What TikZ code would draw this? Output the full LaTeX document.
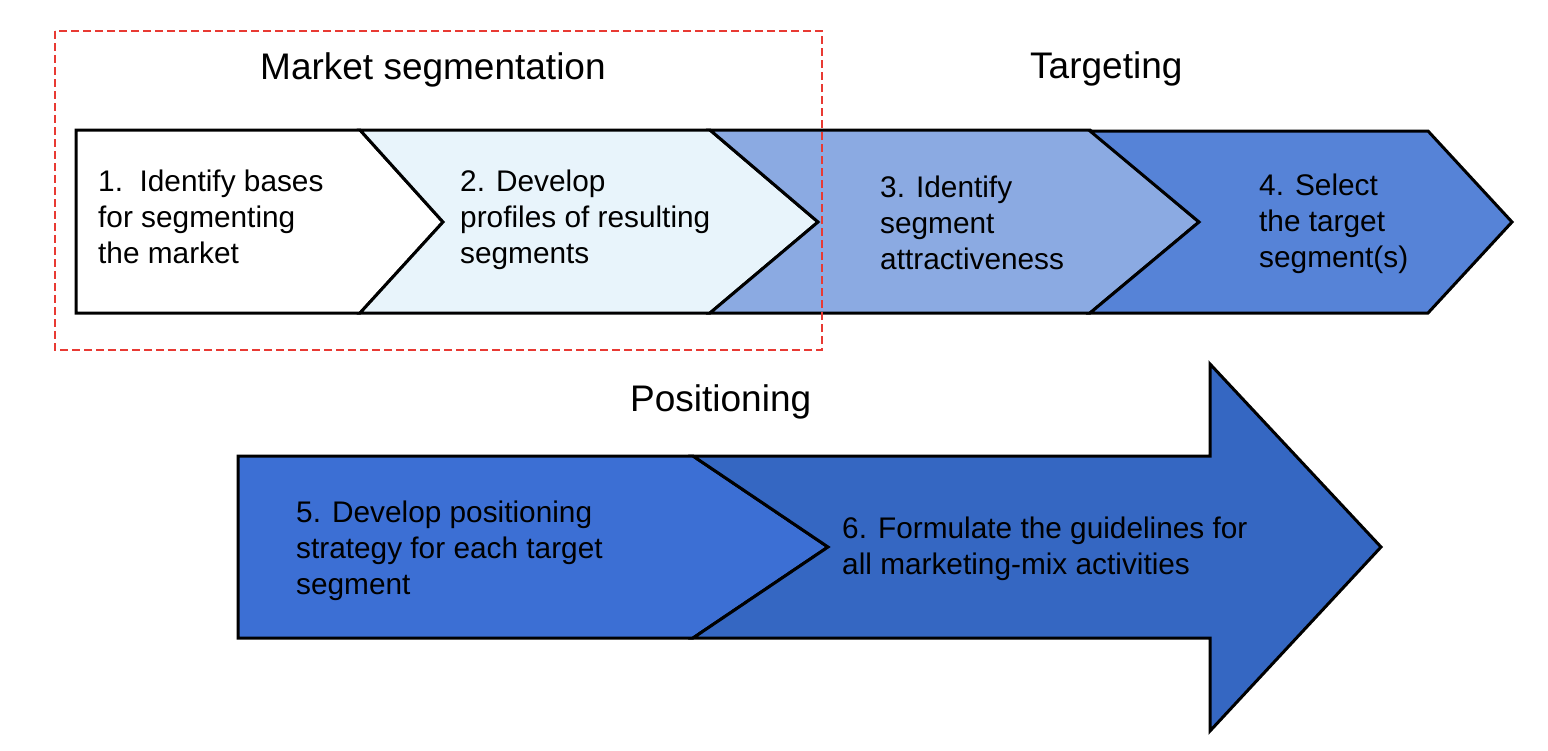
\documentclass[tikz,border=0pt]{standalone}
\usepackage{fontspec}
\setmainfont{Liberation Sans}
\definecolor{cTwo}{HTML}{E8F4FB}
\definecolor{cThree}{HTML}{8BAAE2}
\definecolor{cFour}{HTML}{5683D7}
\definecolor{cFive}{HTML}{3C6FD4}
\definecolor{cSix}{HTML}{3567C2}
\definecolor{cRed}{HTML}{E83A33}
\begin{document}
\begin{tikzpicture}[x=1pt,y=-1pt,
  stepshape/.style={draw=black, line width=3pt, line join=miter},
  lbl/.style={anchor=base west, inner sep=0pt, font=\fontsize{29.8}{36}\selectfont},
  ttl/.style={anchor=base west, inner sep=0pt, font=\fontsize{37}{44}\selectfont},
  segbox/.style={draw=cRed, line width=2.4pt, dash pattern=on 8pt off 4pt}]
\useasboundingbox (0,0) rectangle (1548,750);
% top row chevrons
\draw[stepshape, fill=white] (76,130) -- (360,130) -- (443,222) -- (360,313) -- (76,313) -- cycle;
\draw[stepshape, fill=cTwo] (360,130) -- (710,130) -- (818,222) -- (710,313) -- (360,313) -- (443,222) -- cycle;
\draw[stepshape, fill=cThree] (710,130) -- (1090,130) -- (1199,222) -- (1090,313) -- (710,313) -- (818,222) -- cycle;
\draw[stepshape, fill=cFour] (1090,131) -- (1428,131) -- (1512,222) -- (1428,313) -- (1090,313) -- (1199,222) -- cycle;
% bottom row
\draw[stepshape, fill=cFive] (238,456) -- (693,456) -- (828,547) -- (693,638) -- (238,638) -- cycle;
\draw[stepshape, fill=cSix] (693,456) -- (1210,456) -- (1210,364) -- (1381,547) -- (1210,731) -- (1210,638) -- (693,638) -- (828,547) -- cycle;
% dashed group box
\draw[segbox] (55,31) rectangle (822,350);
% titles
\node[ttl] (tseg) at (260,79) {Market segmentation};
\node[ttl] (ttarg) at (1030,78) {Targeting};
\node[ttl] (tpos) at (630,411) {Positioning};
% step labels
\node[lbl] (s1) at (98,191) {\begin{tabular}[t]{@{}l@{}}1.\ \ Identify bases\\for segmenting\\the market\end{tabular}};
\node[lbl] (s2) at (460,191) {\begin{tabular}[t]{@{}l@{}}2. Develop\\profiles of resulting\\segments\end{tabular}};
\node[lbl] (s3) at (880,197) {\begin{tabular}[t]{@{}l@{}}3. Identify\\segment\\attractiveness\end{tabular}};
\node[lbl] (s4) at (1259,195) {\begin{tabular}[t]{@{}l@{}}4. Select\\the target\\segment(s)\end{tabular}};
\node[lbl] (s5) at (296,522) {\begin{tabular}[t]{@{}l@{}}5. Develop positioning\\strategy for each target\\segment\end{tabular}};
\node[lbl] (s6) at (842,538) {\begin{tabular}[t]{@{}l@{}}6. Formulate the guidelines for\\all marketing-mix activities\end{tabular}};
\end{tikzpicture}
\end{document}
